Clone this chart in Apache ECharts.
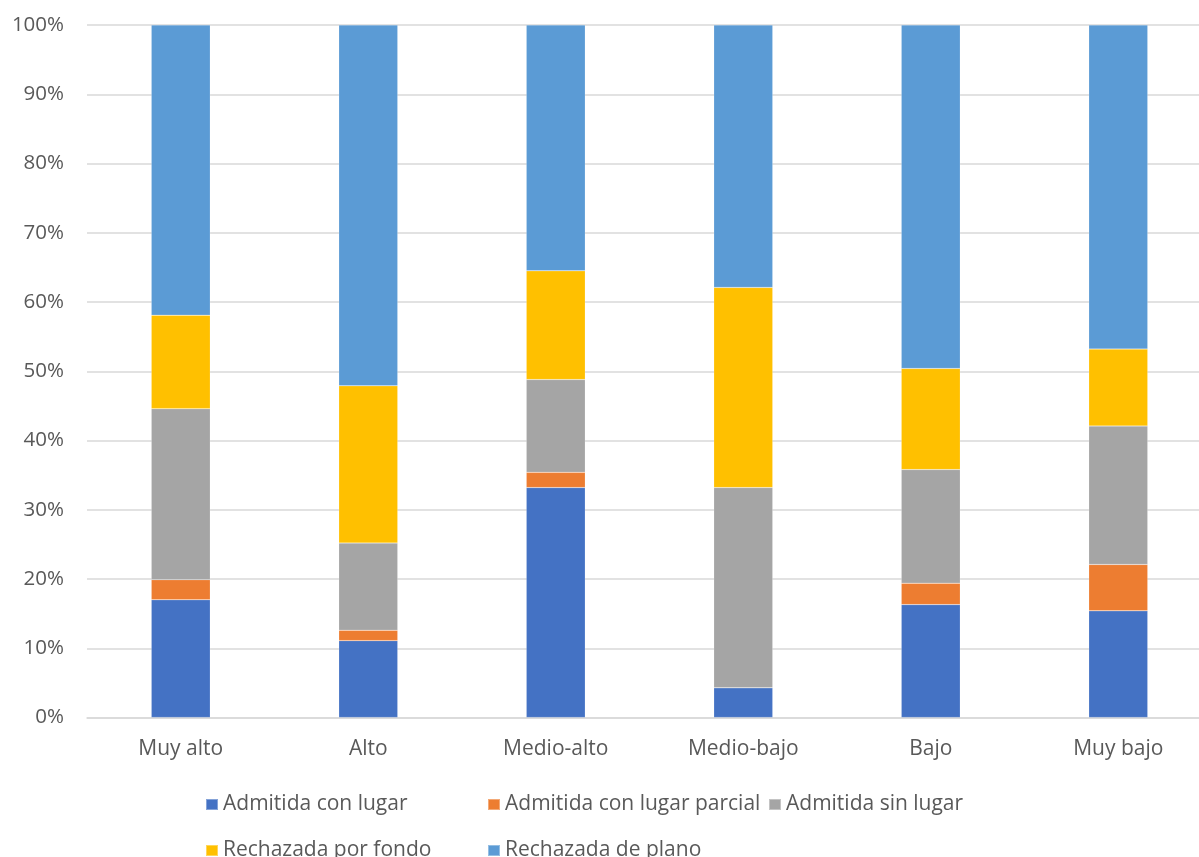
<!DOCTYPE html>
<html>
<head>
<meta charset="utf-8">
<title>Resoluciones por nivel</title>
<script src="https://cdn.jsdelivr.net/npm/echarts@6/dist/echarts.min.js"></script>
<style>
  html, body { margin: 0; padding: 0; background: #ffffff; overflow: hidden; width: 1199px; height: 857px; }
  /* Canvas is a little wider than the page so the last column's plot area runs off the right edge */
  #chart { width: 1212px; height: 857px; }
</style>
</head>
<body>
<div id="chart"></div>
<script>
// Categories along the x axis
const categories = ['Muy alto', 'Alto', 'Medio-alto', 'Medio-bajo', 'Bajo', 'Muy bajo'];

// Share of each outcome per category (percent, each column sums to 100)
const admitidaConLugar = [17.0, 11.1, 33.2, 4.3, 16.3, 15.4];
const admitidaConLugarParcial = [2.9, 1.5, 2.2, 0.0, 3.1, 6.7];
const admitidaSinLugar = [24.7, 12.6, 13.4, 28.9, 16.4, 20.0];
const rechazadaPorFondo = [13.5, 22.7, 15.7, 28.9, 14.6, 11.1];
const rechazadaDePlano = [41.9, 52.1, 35.5, 37.9, 49.6, 46.8];

const seriesNames = [
  'Admitida con lugar',
  'Admitida con lugar parcial',
  'Admitida sin lugar',
  'Rechazada por fondo',
  'Rechazada de plano'
];
const seriesData = [
  admitidaConLugar,
  admitidaConLugarParcial,
  admitidaSinLugar,
  rechazadaPorFondo,
  rechazadaDePlano
];
const colors = ['#4472C4', '#ED7D31', '#A5A5A5', '#FFC000', '#5B9BD5'];

const textColor = '#595959';
const fontFamily = '"Open Sans", "Noto Sans", sans-serif';

// Legend laid out on a fixed column grid, two rows
const legendSlots = [
  { left: 205, top: 793 },
  { left: 487, top: 793 },
  { left: 768, top: 793 },
  { left: 205, top: 839 },
  { left: 487, top: 839 }
];

const chart = echarts.init(document.getElementById('chart'), null, { renderer: 'canvas' });

chart.setOption({
  animation: false,
  backgroundColor: '#ffffff',
  color: colors,
  textStyle: { fontFamily: fontFamily },
  grid: {
    left: 87,
    right: 0,
    top: 25,
    height: 692.5,
    containLabel: false
  },
  legend: seriesNames.map((name, i) => ({
    data: [name],
    left: legendSlots[i].left,
    top: legendSlots[i].top,
    padding: 0,
    icon: 'rect',
    itemWidth: 12,
    itemHeight: 11,
    itemGap: 0,
    itemTextGap: 7,
    selectedMode: false,
    textStyle: { color: textColor, fontSize: 21, fontFamily: fontFamily, lineHeight: 23 }
  })),
  xAxis: {
    type: 'category',
    data: categories,
    axisLine: { show: true, lineStyle: { color: '#d9d9d9', width: 1.5 } },
    axisTick: { show: false },
    axisLabel: {
      color: textColor,
      fontSize: 21,
      fontFamily: fontFamily,
      margin: 21
    },
    splitLine: { show: false }
  },
  yAxis: {
    type: 'value',
    min: 0,
    max: 100,
    interval: 10,
    axisLine: { show: false },
    axisTick: { show: false },
    axisLabel: {
      color: textColor,
      fontSize: 20.5,
      fontFamily: fontFamily,
      margin: 23,
      formatter: '{value}%'
    },
    splitLine: { show: true, lineStyle: { color: '#d9d9d9', width: 1.5 } }
  },
  series: seriesNames.map((name, i) => ({
    name: name,
    type: 'bar',
    stack: 'total',
    barWidth: 59,
    data: seriesData[i],
    itemStyle: { color: colors[i], borderColor: 'rgba(255,255,255,0.35)', borderWidth: 0.5 }
  }))
});
</script>
</body>
</html>
